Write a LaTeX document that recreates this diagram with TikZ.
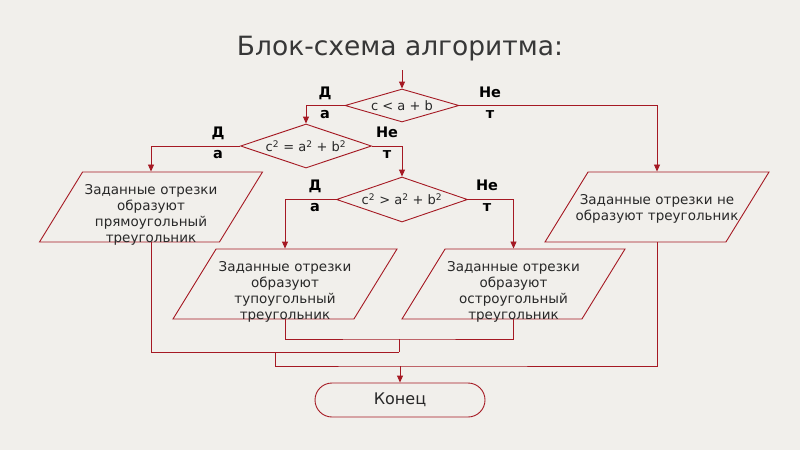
\documentclass[tikz,border=0pt]{standalone}
\usepackage{fontspec}
\setmainfont{DejaVu Sans}
\usetikzlibrary{shapes.geometric,shapes.misc,arrows.meta}
\definecolor{bgc}{RGB}{241,239,235}
\definecolor{linec}{RGB}{165,25,35}
\definecolor{txtc}{RGB}{40,40,40}
\definecolor{titc}{RGB}{55,55,55}

\begin{document}
\begin{tikzpicture}[
		x=1pt, y=-1pt,
		line/.style={draw=linec, line width=0.9pt},
		arr/.style={line, -{Triangle[length=7pt,width=6pt]}},
		cond/.style={diamond, line, inner sep=0pt, text=txtc, font=\fontsize{13}{15}\selectfont},
		outbox/.style={trapezium, trapezium left angle=58.4, trapezium right angle=121.6,
			trapezium stretches body, line, text width=170pt, align=center,
			inner xsep=-20pt, inner ysep=0pt, minimum height=70pt,
			text=txtc, font=\fontsize{13.5}{16}\selectfont},
		term/.style={rounded rectangle, line, minimum width=170pt, minimum height=34pt,
			inner sep=0pt, text=txtc, font=\fontsize{16}{18}\selectfont},
		yn/.style={align=center, inner sep=0pt, font=\bfseries\fontsize{14.5}{21}\selectfont},
		]
		\path[use as bounding box, fill=bgc] (0,0) rectangle (800,450);

		\node[anchor=base, text=titc, font=\fontsize{26.5}{30}\selectfont] (title) at (400,55) {Блок-схема алгоритма:};

		% conditions
		\coordinate (start) at (402,70);
		\node[cond, aspect=3.45, minimum width=114pt, minimum height=33pt] (d1) at (402,105.5) {c < a + b};
		\node[cond, aspect=2.98, minimum width=131pt, minimum height=44pt] (d2) at (306,146) {c\textsuperscript{2} = a\textsuperscript{2} + b\textsuperscript{2}};
		\node[cond, aspect=2.91, minimum width=131pt, minimum height=45pt] (d3) at (402,199.5) {c\textsuperscript{2} > a\textsuperscript{2} + b\textsuperscript{2}};

		\node[yn] (y1) at (325,102.5) {Д\\а};
		\node[yn] (n1) at (490,102.5) {Не\\т};
		\node[yn] (y2) at (218,143) {Д\\а};
		\node[yn] (n2) at (387,143) {Не\\т};
		\node[yn] (y3) at (315,196) {Д\\а};
		\node[yn] (n3) at (487,196) {Не\\т};

		% outputs
		\node[outbox, minimum width=223pt, text height=22pt, text depth=48pt] (p1) at (151,207)
			{Заданные отрезки\\образуют\\прямоугольный\\треугольник};
		\node[outbox, minimum width=224pt, text height=32pt, text depth=38pt] (p5) at (657,207)
			{Заданные отрезки не\\образуют треугольник};
		\node[outbox, minimum width=224pt, text height=22pt, text depth=48pt] (p3) at (285,284)
			{Заданные отрезки\\образуют\\тупоугольный\\треугольник};
		\node[outbox, minimum width=223pt, text height=22pt, text depth=48pt] (p4) at (513.5,284)
			{Заданные отрезки\\образуют\\остроугольный\\треугольник};

		\node[term] (end) at (400,400) {Конец};

		% connectors
		\draw[arr] (start) -- (d1.north);
		\draw[arr] (d1.west) -| (d2.north);
		\draw[arr] (d1.east) -| (p5.north);
		\draw[arr] (d2.west) -| (p1.north);
		\draw[arr] (d2.east) -| (d3.north);
		\draw[arr] (d3.west) -| (p3.north);
		\draw[arr] (d3.east) -| (p4.north);

		\coordinate (m34) at (399,339);
		\coordinate (m134) at (399,352);
		\coordinate (j1) at (275,352);
		\coordinate (j2) at (400,366);
		\draw[line] (p3.south) |- (m34) -| (p4.south);
		\draw[line] (m34) -- (m134);
		\draw[line] (p1.south) |- (m134);
		\draw[line] (j1) |- (j2) -| (p5.south);
		\draw[arr] (j2) -- (end.north);
	\end{tikzpicture}
\end{document}
